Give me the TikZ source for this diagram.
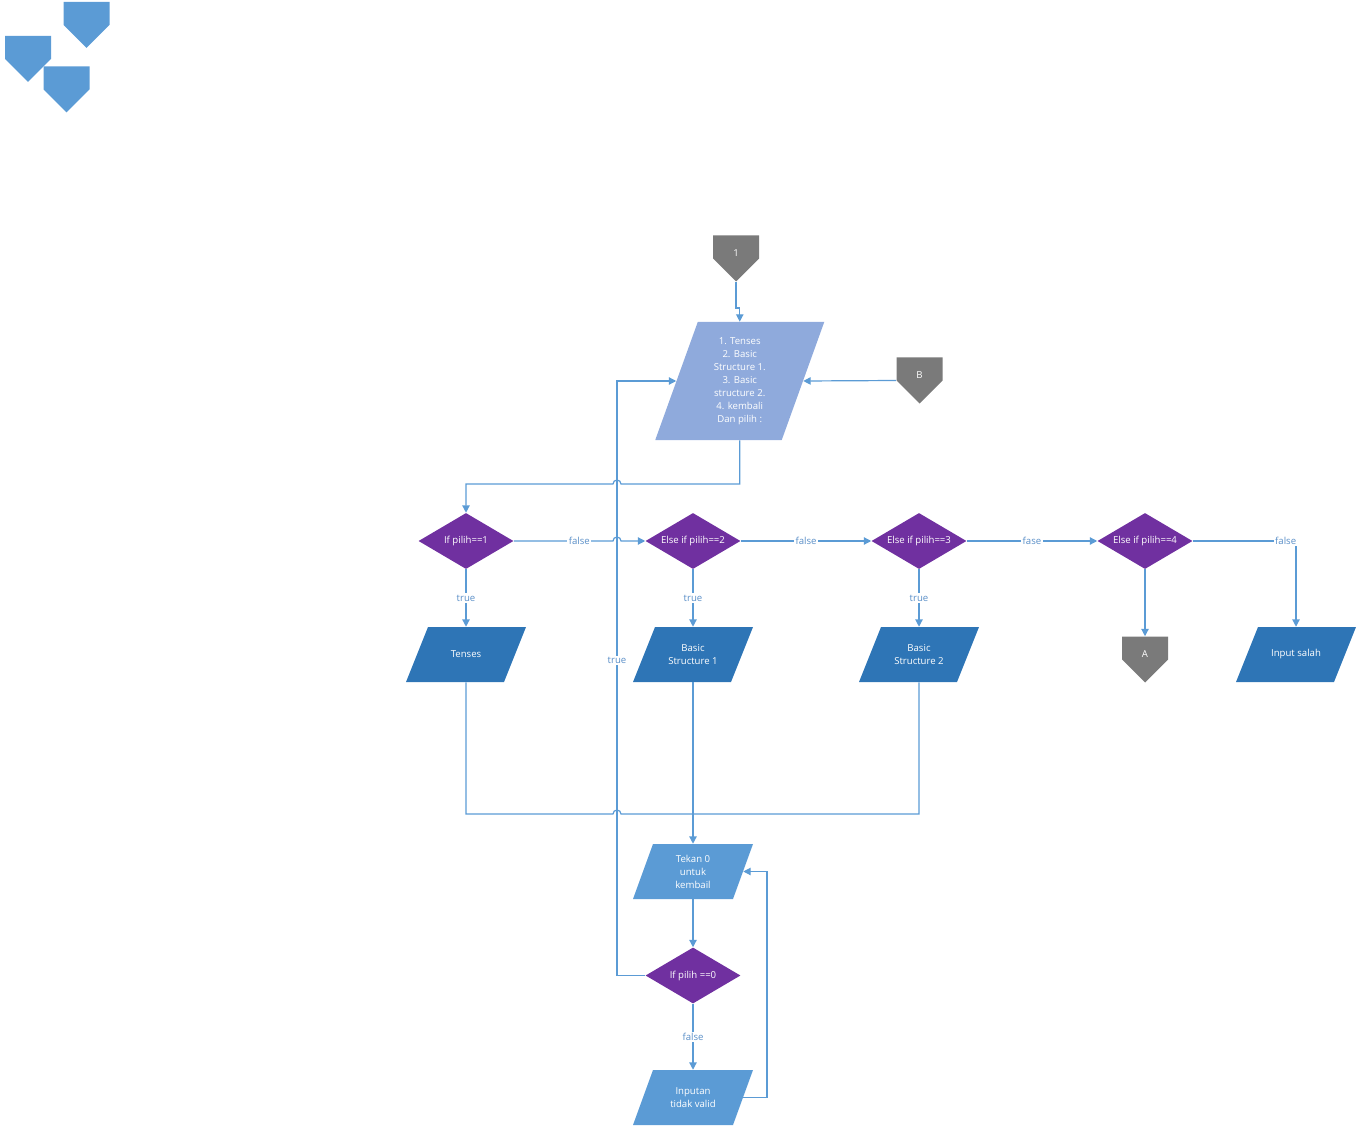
\documentclass[tikz,border=0pt]{standalone}
\usepackage{fontspec}
\setmainfont{Open Sans}
\usetikzlibrary{shapes.geometric,arrows.meta}
\definecolor{lineblue}{HTML}{5B9BD5}
\definecolor{midblue}{HTML}{5B9BD5}
\definecolor{darkblue}{HTML}{2E75B6}
\definecolor{lightblue}{HTML}{8FAADC}
\definecolor{purp}{HTML}{7030A0}
\definecolor{conngray}{HTML}{7A7A7A}
\definecolor{lbltext}{HTML}{5A8FC8}
\begin{document}
\begin{tikzpicture}[x=0.75pt,y=-0.75pt,
  font=\fontsize{7.2}{9.75}\selectfont,
  conn/.style={minimum width=34.5pt, minimum height=34.5pt, inner sep=0pt, text=white,
    text height=5.5pt, text depth=9pt,
    path picture={\fill[#1] (path picture bounding box.north west) -- (path picture bounding box.north east)
      -- (path picture bounding box.east) -- (path picture bounding box.south)
      -- (path picture bounding box.west) -- cycle;}},
  dec/.style={diamond, fill=purp, text=white, minimum width=71.25pt, minimum height=42pt, inner sep=0pt, aspect=1.7},
  para/.style 2 args={rectangle, minimum width=90pt, minimum height=41.25pt, inner sep=0pt, text=white, align=center,
    path picture={\fill[#1] ([xshift=#2]path picture bounding box.north west) -- (path picture bounding box.north east)
      -- ([xshift=-#2]path picture bounding box.south east) -- (path picture bounding box.south west) -- cycle;}},
  lbl/.style={fill=white, text=lbltext, inner sep=1pt},
  ln/.style={draw=lineblue, line width=0.9pt},
  arr/.style={-{Triangle[length=5.5pt,width=5.5pt]}}]
\useasboundingbox (0,0) rectangle (1364,1134);
% decorative connectors top-left
\node[conn=midblue] (s1) at (86.5,25) {};
\node[conn=midblue] (s2) at (28,59) {};
\node[conn=midblue] (s3) at (66.5,89.5) {};
% off-page connectors
\node[conn=conngray] (c1) at (736,258.5) {1};
\node[conn=conngray] (cB) at (919.5,380.5) {B};
\node[conn=conngray] (cA) at (1145,659.5) {A};
% main menu
\node[trapezium, trapezium left angle=64, trapezium right angle=116, trapezium stretches body,
  minimum width=126.75pt, minimum height=88.5pt, inner sep=0pt, fill=lightblue, text=white, align=center]
  (main) at (739.75,381) {1. Tenses\\2. Basic\\Structure 1.\\3. Basic\\structure 2.\\4. kembali\\Dan pilih :};
% decisions
\node[dec] (d1) at (466,541) {If pilih==1};
\node[dec] (d2) at (693,541) {Else if pilih==2};
\node[dec] (d3) at (919,541) {Else if pilih==3};
\node[dec] (d4) at (1145,541) {Else if pilih==4};
\node[dec] (d5) at (693,975.5) {If pilih ==0};
% outputs
\node[para={darkblue}{16.5pt}] (p1) at (466,654.5) {Tenses};
\node[para={darkblue}{16.5pt}] (p2) at (693,654.5) {Basic\\Structure 1};
\node[para={darkblue}{16.5pt}] (p3) at (919,654.5) {Basic\\Structure 2};
\node[para={darkblue}{16.5pt}] (p4) at (1296,654.5) {Input salah};
\node[para={midblue}{15pt}] (p5) at (693,871.5) {Tekan 0\\untuk\\kembail};
\node[para={midblue}{15pt}] (p6) at (693,1097.5) {Inputan\\tidak valid};
% connectors
\draw[ln,arr] (c1.south) -- (c1.south |- 0,308) -| (main.north);
\draw[ln,arr] (cB.west) -- (main.east);
\draw[ln,arr] (main.south) |- (621,484) arc[start angle=0,end angle=-180,radius=4] -| (d1.north);
\draw[ln,arr] (d1.east) -- node[lbl,pos=0.66]{false} (613,541) arc[start angle=180,end angle=360,radius=4] -- (d2.west);
\draw[ln,arr] (d2.east) -- node[lbl]{false} (d3.west);
\draw[ln,arr] (d3.east) -- node[lbl]{fase} (d4.west);
\draw[ln,arr] (d4.east) -- node[lbl,pos=0.9]{false} (p4.north |- d4.east) -- (p4.north);
\draw[ln,arr] (d1.south) -- node[lbl]{true} (p1.north);
\draw[ln,arr] (d2.south) -- node[lbl]{true} (p2.north);
\draw[ln,arr] (d3.south) -- node[lbl]{true} (p3.north);
\draw[ln,arr] (d4.south) -- (cA.north);
\draw[ln] (p1.south) |- (613,814) arc[start angle=180,end angle=360,radius=4] -| (p3.south);
\draw[ln,arr] (p2.south) -- (p5.north);
\draw[ln,arr] (p5.south) -- (d5.north);
\draw[ln,arr] (d5.south) -- node[lbl]{false} (p6.north);
\draw[ln,arr] (d5.west) -- (d5.west -| 617,0) -- node[lbl,pos=0.53]{true} (main.west -| 617,0) -- (main.west);
\draw[ln,arr] ([xshift=-7.5pt]p6.east) -- (p6.east -| 767,0) -- (p5.east -| 767,0) -- ([xshift=-7.5pt]p5.east);
\end{tikzpicture}
\end{document}
